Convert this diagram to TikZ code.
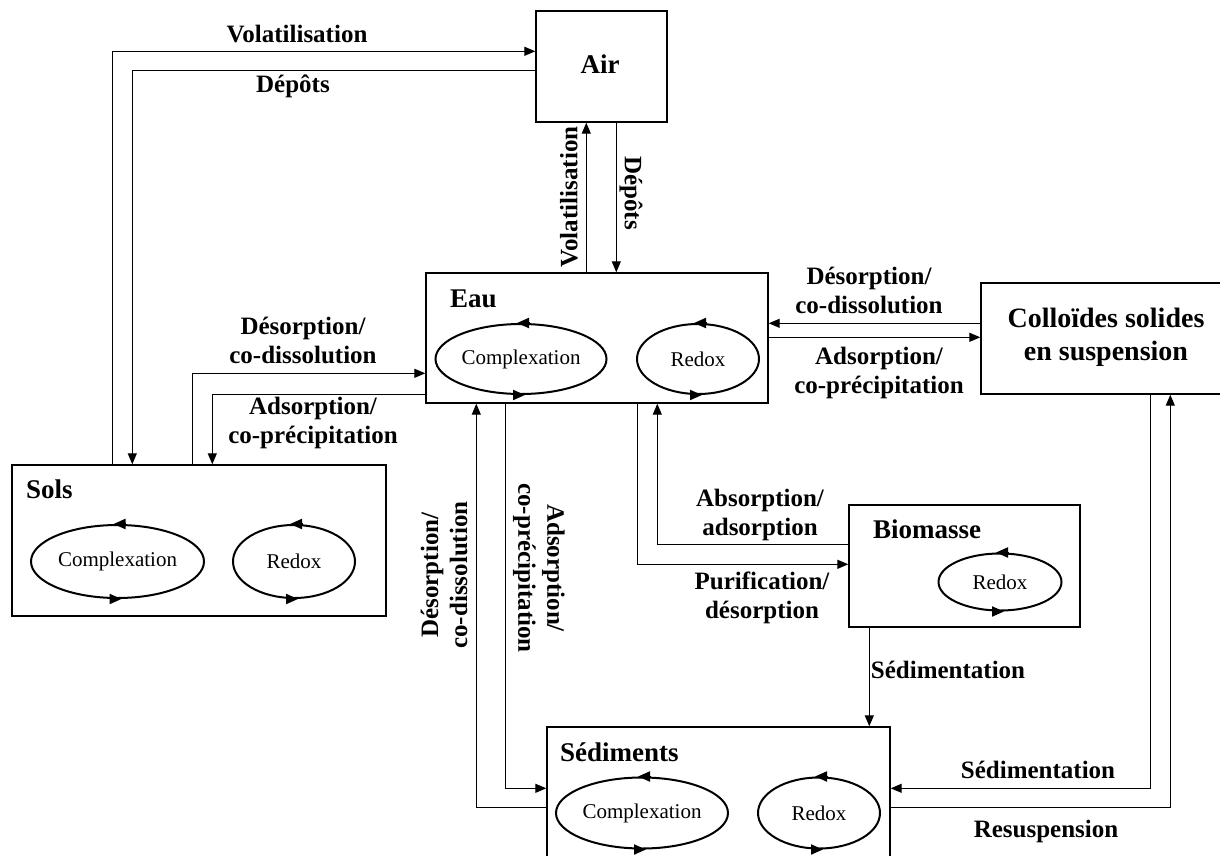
\documentclass[tikz,border=0pt]{standalone}
\usepackage{fontspec}
\setmainfont{Liberation Serif}
\usetikzlibrary{calc,arrows.meta,shapes.geometric}
\newcommand\cyctips[1]{%
  \draw[tipst] ($(#1.north)+(8,0)$) -- ($(#1.north)+(-4,0)$);
  \draw[tipst] ($(#1.south)+(-8,0)$) -- ($(#1.south)+(4,0)$);}
\begin{document}
\begin{tikzpicture}[x=1pt,y=-1pt,
  box/.style={draw, line width=1.4pt, rectangle, inner sep=0pt},
  cyc/.style={draw, line width=2pt, ellipse, inner sep=0pt, font=\fontsize{21}{24}\selectfont},
  arr/.style={line width=1.2pt, -{Triangle[length=11pt,width=9pt]}},
  tipst/.style={line width=2pt, -{Triangle[length=12pt,width=10pt]}},
  lab/.style={font=\bfseries\fontsize{25}{29}\selectfont, align=center, inner sep=0pt},
  ttl/.style={font=\bfseries\fontsize{27}{33}\selectfont, inner sep=0pt}]
\path[use as bounding box, fill=white] (0,0) rectangle (1220,856);

% boxes
\node[box, minimum width=131, minimum height=111] (air) at (601.5,66.5) {};
\node[ttl, anchor=base] (airt) at (600,74) {Air};
\node[box, minimum width=342, minimum height=130] (eau) at (597,338) {};
\node[box, minimum width=251, minimum height=111] (coll) at (1106.5,338.5) {};
\node[box, minimum width=374, minimum height=151] (sols) at (199,540.5) {};
\node[box, minimum width=231, minimum height=122] (bio) at (964.5,566) {};
\node[box, minimum width=343, minimum height=143] (sed) at (718.5,798.5) {};

% titles
\node[ttl, anchor=base west] (eaut) at (450,307) {Eau};
\node[ttl, anchor=base west] (solst) at (26,498) {Sols};
\node[ttl, anchor=base west] (biot) at (873,538) {Biomasse};
\node[ttl, anchor=base west] (sedt) at (560,761) {Sédiments};
\node[ttl, anchor=base, align=center, font=\bfseries\fontsize{28}{33}\selectfont] (collt) at (1106,360) {Colloïdes solides\\en suspension};

% cycles
\node[cyc, minimum width=171, minimum height=70] (ecx) at (521,359) {Complexation};
\node[cyc, minimum width=122, minimum height=70] (erd) at (698,359) {Redox};
\node[cyc, minimum width=173, minimum height=73] (scx) at (117.5,561.5) {Complexation};
\node[cyc, minimum width=122, minimum height=73] (srd) at (294,561.5) {Redox};
\node[cyc, minimum width=123, minimum height=57] (brd) at (1000,582) {Redox};
\node[cyc, minimum width=172, minimum height=71] (dcx) at (642,813) {Complexation};
\node[cyc, minimum width=122, minimum height=71] (drd) at (819,813) {Redox};
\cyctips{ecx}\cyctips{erd}\cyctips{scx}\cyctips{srd}\cyctips{brd}\cyctips{dcx}\cyctips{drd}

% connectors
\draw[arr] ($(sols.north west)+(101,0)$) |- ($(air.north west)+(0,41)$);
\draw[arr] ($(air.north west)+(0,60)$) -| ($(sols.north west)+(121,0)$);
\draw[arr] ($(eau.north west)+(161,0)$) coordinate (v1) -- (v1 |- air.south);
\draw[arr] ($(air.south west)+(81,0)$) coordinate (d1) -- (d1 |- eau.north);
\draw[arr] ($(sols.north west)+(181,0)$) |- ($(eau.north west)+(0,101)$);
\draw[arr] ($(eau.north west)+(0,122)$) -| ($(sols.north west)+(201,0)$);
\draw[arr] ($(coll.north west)+(0,41)$) coordinate (c1) -- (c1 -| eau.east);
\draw[arr] ($(eau.north east)+(0,65)$) coordinate (c2) -- (c2 -| coll.west);
\draw[arr] ($(sed.north west)+(0,81)$) -| ($(eau.south west)+(51,0)$);
\draw[arr] ($(eau.south west)+(80,0)$) |- ($(sed.north west)+(0,62)$);
\draw[arr] ($(bio.north west)+(0,40)$) -| ($(eau.south west)+(232,0)$);
\draw[arr] ($(eau.south west)+(212,0)$) |- ($(bio.north west)+(0,60)$);
\draw[arr] ($(bio.south west)+(21,0)$) coordinate (b1) -- (b1 |- sed.north);
\draw[arr] ($(coll.south west)+(170,0)$) |- ($(sed.north east)+(0,62)$);
\draw[arr] ($(sed.north east)+(0,81)$) -| ($(coll.south west)+(190,0)$);

% labels
\node[lab, anchor=base] (l1) at (297,43) {Volatilisation};
\node[lab, anchor=base] (l2) at (293,93) {Dépôts};
\node[lab, rotate=90] (l3) at (569,197) {Volatilisation};
\node[lab, rotate=-90] (l4) at (631,193) {Dépôts};
\node[lab, anchor=base] (l5) at (303,363) {Désorption/\\co-dissolution};
\node[lab, anchor=base] (l6) at (313,443) {Adsorption/\\co-précipitation};
\node[lab, anchor=base] (l7) at (869,313) {Désorption/\\co-dissolution};
\node[lab, anchor=base] (l8) at (879,393) {Adsorption/\\co-précipitation};
\node[lab, rotate=90] (l9) at (444,575) {Désorption/\\co-dissolution};
\node[lab, rotate=-90] (l10) at (539,568) {Adsorption/\\co-précipitation};
\node[lab, anchor=base] (l11) at (760,535) {Absorption/\\adsorption};
\node[lab, anchor=base] (l12) at (762,618) {Purification/\\désorption};
\node[lab, anchor=base] (l13) at (948,678) {Sédimentation};
\node[lab, anchor=base] (l14) at (1038,778) {Sédimentation};
\node[lab, anchor=base] (l15) at (1046,837) {Resuspension};
\end{tikzpicture}
\end{document}
